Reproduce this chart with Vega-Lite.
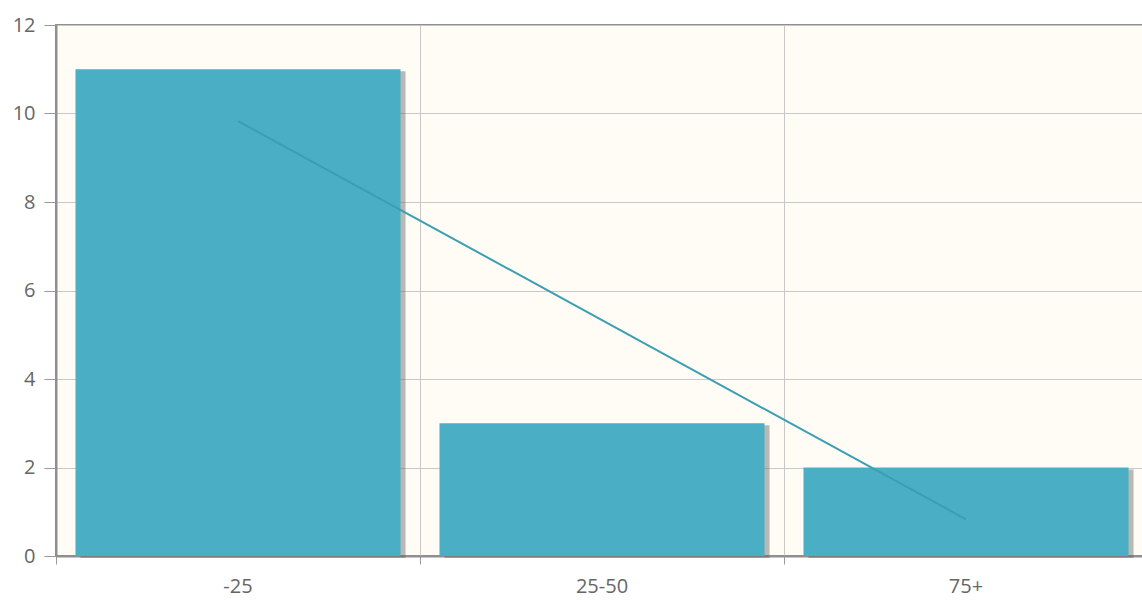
{
  "$schema": "https://vega.github.io/schema/vega-lite/v6.json",
  "autosize": "none",
  "padding": {"left": 56, "top": 25, "right": 0, "bottom": 46},
  "width": 1092,
  "height": 531,
  "background": "#ffffff",
  "config": {
    "view": {"fill": "#fffcf5", "stroke": "#8f8f8f", "strokeWidth": 2},
    "font": "Open Sans",
    "axis": {
      "labelFont": "Open Sans",
      "labelFontSize": 20,
      "labelColor": "#666666",
      "gridColor": "#c8c8c8",
      "gridWidth": 1,
      "tickColor": "#999999",
      "domainColor": "#8f8f8f",
      "domainWidth": 2
    }
  },
  "data": {
    "values": [
      {"cat": "-25", "count": 11, "trend": 9.83},
      {"cat": "25-50", "count": 3, "trend": 5.33},
      {"cat": "75+", "count": 2, "trend": 0.83}
    ]
  },
  "layer": [
    {
      "mark": {"type": "bar", "width": {"band": 0.893}, "color": "#666666", "opacity": 0.45, "xOffset": 5, "yOffset": 2},
      "encoding": {
        "x": {
          "field": "cat", "type": "nominal", "sort": null,
          "scale": {"paddingInner": 0, "paddingOuter": 0},
          "axis": {"title": null, "bandPosition": 0, "labels": false, "ticks": true, "tickSize": 8, "grid": true, "domain": true, "orient": "bottom"}
        },
        "y": {
          "field": "count", "type": "quantitative",
          "scale": {"domain": [0, 12]},
          "axis": {"title": null, "values": [0, 2, 4, 6, 8, 10, 12], "tickSize": 12, "labelPadding": 9, "grid": true}
        }
      }
    },
    {
      "mark": {"type": "bar", "width": {"band": 0.893}, "color": "#4aafc4"},
      "encoding": {
        "x": {
          "field": "cat", "type": "nominal", "sort": null,
          "axis": {"title": null, "bandPosition": 0.5, "labels": true, "ticks": false, "grid": false, "domain": false, "labelAngle": 0, "labelPadding": 20, "orient": "bottom"}
        },
        "y": {
          "field": "count", "type": "quantitative",
          "axis": {"title": null, "values": [0, 2, 4, 6, 8, 10, 12], "tickSize": 12, "labelPadding": 9, "grid": true}
        }
      }
    },
    {
      "mark": {"type": "line", "color": "#3a9fb2", "strokeWidth": 2},
      "encoding": {
        "x": {"field": "cat", "type": "nominal", "sort": null, "axis": null},
        "y": {
          "field": "trend", "type": "quantitative",
          "axis": {"title": null, "values": [0, 2, 4, 6, 8, 10, 12], "tickSize": 12, "labelPadding": 9, "grid": true}
        }
      }
    }
  ],
  "resolve": {"axis": {"x": "independent"}}
}
